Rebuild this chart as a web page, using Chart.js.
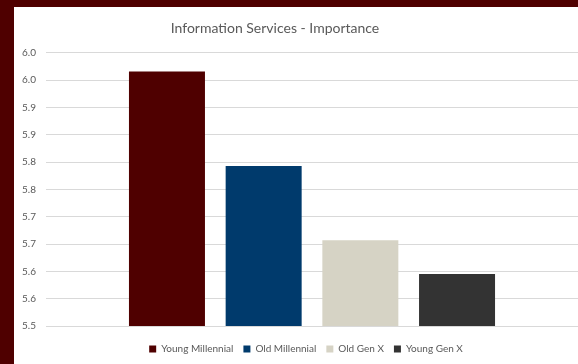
<!DOCTYPE html>
<html>
<head>
<meta charset="utf-8">
<script src="https://cdn.jsdelivr.net/npm/chart.js@4/dist/chart.umd.min.js"></script>
<style>
  html, body { margin: 0; padding: 0; background: #4f0000; }
  #wrap { position: absolute; left: 14px; top: 7px; width: 564px; height: 357px; background: #fff; }
</style>
</head>
<body>
<div id="wrap"><canvas id="chart"></canvas></div>
<script>
// données
const groups = ["Young Millennial", "Old Millennial", "Old Gen X", "Young Gen X"];
const importance = [5.966, 5.793, 5.657, 5.595];
const colors = ["#4f0000", "#003a6c", "#d6d3c5", "#333333"];
const tickLabels = ["5.5", "5.6", "5.6", "5.7", "5.7", "5.8", "5.8", "5.9", "5.9", "6.0", "6.0"];

const FONT = "Lato, 'Open Sans', sans-serif";
const GREY = "#595959";

// titre décalé à gauche, légende un peu à droite, comme dans l'original
const boxShift = {
  id: "boxShift",
  afterLayout(chart) {
    const t = chart.titleBlock;
    if (t) { t.left -= 21; t.right -= 21; }
    const l = chart.legend;
    if (l) { l.left += 10; l.right += 10; }
  }
};

document.addEventListener("DOMContentLoaded", () => {
  const ctx = document.getElementById("chart");
  new Chart(ctx, {
    type: "bar",
    data: {
      labels: [""],
      datasets: groups.map((g, i) => ({
        label: g,
        data: [importance[i]],
        backgroundColor: colors[i],
        categoryPercentage: 0.727,
        barPercentage: 0.786
      }))
    },
    options: {
      responsive: true,
      maintainAspectRatio: false,
      animation: false,
      layout: { padding: 0 },
      plugins: {
        title: {
          display: true,
          text: "Information Services - Importance",
          color: GREY,
          font: { family: FONT, size: 14, weight: "normal" },
          padding: { top: 13, bottom: 16 }
        },
        legend: {
          position: "bottom",
          labels: {
            color: GREY,
            font: { family: FONT, size: 10 },
            boxWidth: 7,
            boxHeight: 7,
            padding: 10
          }
        },
        tooltip: { enabled: false }
      },
      scales: {
        x: {
          grid: { display: false },
          border: { display: false },
          ticks: { display: false }
        },
        y: {
          min: 5.5,
          max: 6.0,
          afterFit: (s) => { s.width = 32; },
          ticks: {
            stepSize: 0.05,
            color: GREY,
            font: { family: FONT, size: 10 },
            padding: 10,
            callback: (v, i) => tickLabels[i]
          },
          grid: { color: "#d9d9d9", drawTicks: false },
          border: { display: false }
        }
      }
    },
    plugins: [boxShift]
  });
});
</script>
</body>
</html>
